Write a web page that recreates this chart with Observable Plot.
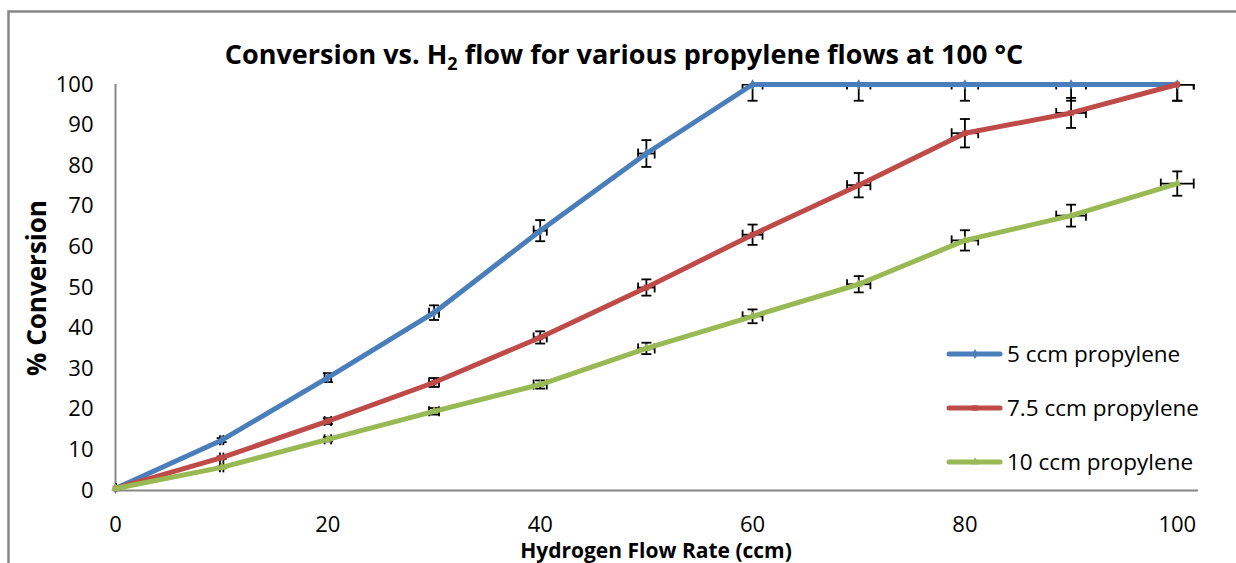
<!DOCTYPE html>
<html>
<head>
<meta charset="utf-8">
<script src="https://cdn.jsdelivr.net/npm/d3@7"></script>
<script src="https://cdn.jsdelivr.net/npm/@observablehq/plot@0.6"></script>
<style>
  body { margin: 0; background: #fff; }
  #chart svg { display: block; }
</style>
</head>
<body>
<div id="chart"></div>
<script>
// ---- data ----
const flows   = [0, 10, 20, 30, 40, 50, 60, 70, 80, 90, 100];
const conv5   = [0.5, 12.4, 27.8, 43.8, 64, 83, 100, 100, 100, 100, 100];
const conv75  = [0.5, 8.1, 17.1, 26.6, 37.7, 50, 63, 75.2, 88, 93, 100];
const conv10  = [0.5, 5.7, 12.6, 19.5, 26.1, 35, 42.9, 50.8, 61.6, 67.7, 75.6];
const err5    = [0.1, 0.5, 1.1, 1.8, 2.6, 3.3, 4, 4, 4, 4, 4];
const err75   = [0.1, 0.3, 0.7, 1.1, 1.5, 2, 2.5, 3, 3.5, 3.7, 4];
const err10   = [0.1, 0.2, 0.5, 0.8, 1.0, 1.4, 1.7, 2.0, 2.5, 2.7, 3.0];
const flowErr = [0.05, 0.16, 0.31, 0.47, 0.62, 0.78, 0.94, 1.1, 1.25, 1.4, 1.55];
const seriesNames   = ["5 ccm propylene", "7.5 ccm propylene", "10 ccm propylene"];
const seriesColors  = ["#4a7ebb", "#be4b48", "#98b954"];
const seriesSymbols = ["diamond", "square", "triangle"];
const xTicks = [0, 20, 40, 60, 80, 100];
const yTicks = [0, 10, 20, 30, 40, 50, 60, 70, 80, 90, 100];
const titleText = "Conversion vs. H";
const titleSub = "2";
const titleRest = " flow for various propylene flows at 100 °C";
const xLabel = "Hydrogen Flow Rate (ccm)";
const yLabel = "% Conversion";

// ---- table ----
const convs = [conv5, conv75, conv10];
const errs = [err5, err75, err10];
const rows = [];
seriesNames.forEach((name, s) => {
  flows.forEach((f, i) => {
    rows.push({series: name, x: f, y: convs[s][i], ey: errs[s][i], ex: flowErr[i]});
  });
});

const FONT = "'Open Sans', sans-serif";
const capH = { draw(ctx, size) { const r = Math.sqrt(size / Math.PI); ctx.moveTo(-r, 0); ctx.lineTo(r, 0); } };
const capV = { draw(ctx, size) { const r = Math.sqrt(size / Math.PI); ctx.moveTo(0, -r); ctx.lineTo(0, r); } };
const EW = 1.8;

const errMarks = [
  Plot.ruleX(rows, {x: "x", y1: d => d.y - d.ey, y2: d => d.y + d.ey, stroke: "black", strokeWidth: EW, clip: true}),
  Plot.dot(rows, {x: "x", y: d => d.y - d.ey, symbol: capH, r: 5, stroke: "black", strokeWidth: EW, clip: true}),
  Plot.dot(rows, {x: "x", y: d => d.y + d.ey, symbol: capH, r: 5, stroke: "black", strokeWidth: EW, clip: true}),
  Plot.ruleY(rows, {y: "y", x1: d => d.x - d.ex, x2: d => d.x + d.ex, stroke: "black", strokeWidth: EW, clip: true}),
  Plot.dot(rows, {x: d => d.x - d.ex, y: "y", symbol: capV, r: 5, stroke: "black", strokeWidth: EW, clip: true}),
  Plot.dot(rows, {x: d => d.x + d.ex, y: "y", symbol: capV, r: 5, stroke: "black", strokeWidth: EW, clip: true})
];

const lineMarks = [];
seriesNames.forEach((name, s) => {
  const data = rows.filter(d => d.series === name);
  lineMarks.push(Plot.line(data, {x: "x", y: "y", stroke: seriesColors[s], strokeWidth: 5, strokeLinejoin: "round", strokeLinecap: "round"}));
  lineMarks.push(Plot.dot(data, {x: "x", y: "y", symbol: seriesSymbols[s], r: 3.2, fill: seriesColors[s], stroke: "none"}));
});

const chart = Plot.plot({
  width: 1236,
  height: 563,
  marginLeft: 115,
  marginRight: 38,
  marginTop: 84,
  marginBottom: 73,
  style: {fontFamily: FONT, fontSize: "22px", color: "black", background: "white"},
  x: {domain: [0, 102]},
  y: {domain: [0, 100]},
  marks: [
    Plot.axisY({ticks: yTicks, tickSize: 0, tickPadding: 22, label: null, fontSize: 22}),
    Plot.axisX({ticks: xTicks, tickSize: 0, tickPadding: 26, label: null, fontSize: 22}),
    Plot.ruleY([0], {stroke: "#868686", strokeWidth: 2}),
    Plot.ruleX([0], {stroke: "#868686", strokeWidth: 2}),
    ...errMarks,
    ...lineMarks
  ]
});
document.getElementById("chart").appendChild(chart);

// ---- decorations ----
const svg = d3.select(chart);
// outer chart-area border
svg.append("path").attr("d", "M8.5,563V11.5H1236").attr("fill", "none").attr("stroke", "#868686").attr("stroke-width", 2.5);

// title
const t = svg.append("text").attr("x", 624).attr("y", 64).attr("text-anchor", "middle")
  .attr("font-family", FONT).attr("font-weight", "bold").attr("font-size", 27).attr("fill", "black");
t.append("tspan").text(titleText);
t.append("tspan").attr("font-size", 18).attr("dy", 6).text(titleSub);
t.append("tspan").attr("dy", -6).text(titleRest);

// axis titles
svg.append("text").attr("x", 656).attr("y", 558).attr("text-anchor", "middle")
  .attr("font-family", FONT).attr("font-weight", "bold").attr("font-size", 21).attr("fill", "black").text(xLabel);
svg.append("text").attr("transform", "translate(46,288) rotate(-90)").attr("text-anchor", "middle")
  .attr("font-family", FONT).attr("font-weight", "bold").attr("font-size", 26).attr("fill", "black").text(yLabel);

// legend
const legendY = [354, 408, 462];
const lg = svg.append("g");
seriesNames.forEach((name, s) => {
  const g = lg.append("g").attr("transform", `translate(0,${legendY[s]})`);
  g.append("line").attr("x1", 949).attr("x2", 1000).attr("stroke", seriesColors[s]).attr("stroke-width", 5).attr("stroke-linecap", "round");
  g.append("path").attr("transform", "translate(975,0)").attr("d", d3.symbol(s === 0 ? d3.symbolDiamond : s === 1 ? d3.symbolSquare : d3.symbolTriangle, 30)()).attr("fill", seriesColors[s]);
  g.append("text").attr("x", 1007).attr("dy", "0.35em").attr("text-anchor", "start").attr("font-family", FONT).attr("font-size", 22.5).attr("fill", "black").text(name);
});
</script>
</body>
</html>
